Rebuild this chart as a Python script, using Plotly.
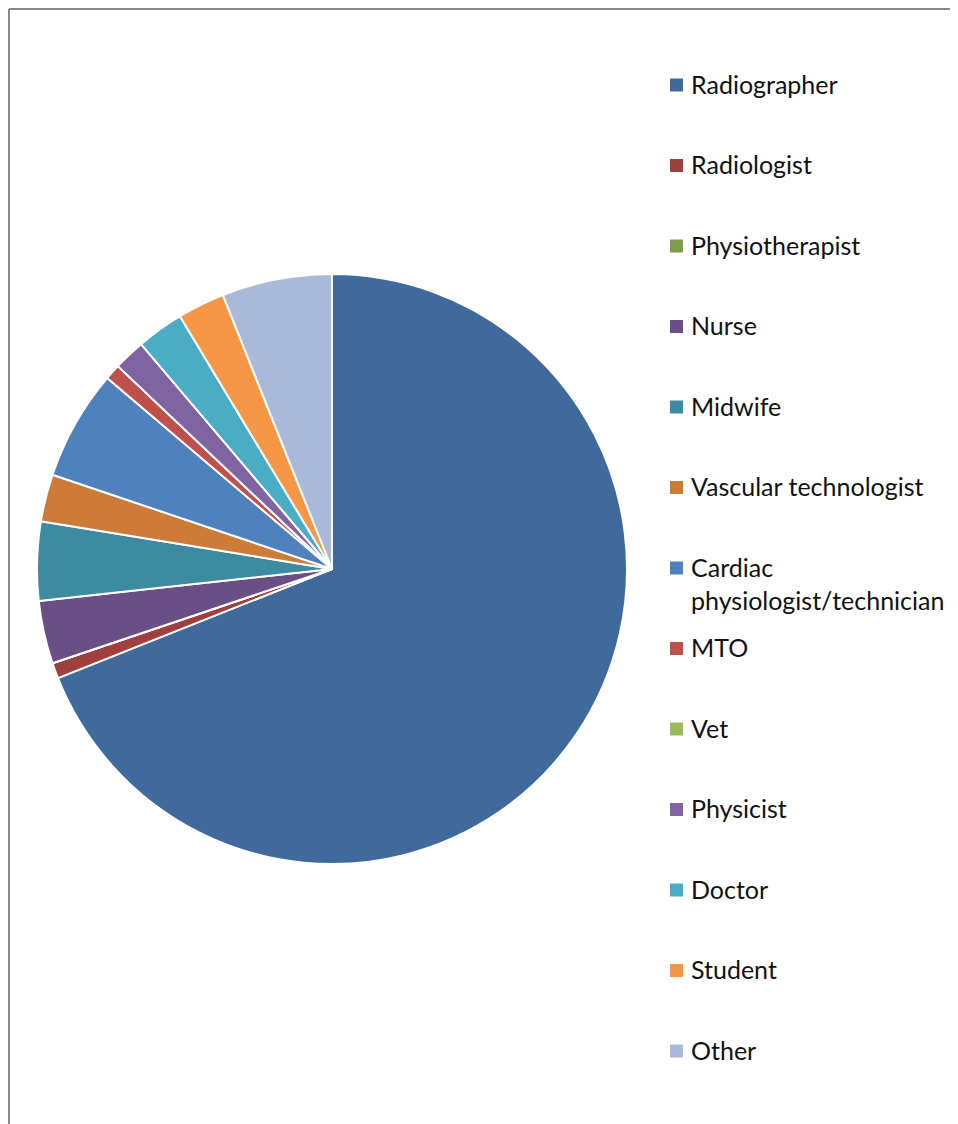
import plotly.graph_objects as go

# ---- data ----
labels = ["Radiographer", "Radiologist", "Physiotherapist", "Nurse", "Midwife",
          "Vascular technologist", "Cardiac physiologist/technician", "MTO", "Vet",
          "Physicist", "Doctor", "Student", "Other"]
legend_text = ["Radiographer", "Radiologist", "Physiotherapist", "Nurse", "Midwife",
               "Vascular technologist", "Cardiac<br>physiologist/technician", "MTO", "Vet",
               "Physicist", "Doctor", "Student", "Other"]
counts = [80, 1, 0, 4, 5, 3, 7, 1, 0, 2, 3, 3, 7]
colors = ["#416A9C", "#A0403E", "#7F9C4A", "#6A4F86", "#3C8BA1", "#CD7B38",
          "#4F81BD", "#C0504D", "#9BBB59", "#8064A2", "#4BACC6", "#F79646", "#A9B9D8"]

# page body has an 8px margin, so the figure is drawn offset by 8px
OFF = 8
W, H = 958 - OFF, 1124 - OFF


def px(x):
    return (x - OFF) / W


def py(y):
    return 1 - (y - OFF) / H


fig = go.Figure()
fig.add_trace(go.Pie(
    labels=labels,
    values=counts,
    sort=False,
    direction="clockwise",
    rotation=0,
    textinfo="none",
    marker=dict(colors=colors, line=dict(color="white", width=2)),
    domain=dict(x=[px(37), px(627)], y=[py(864), py(274)]),
    showlegend=False,
))

# ---- manual legend ----
shapes = []
annotations = []
y0, step = 85, 80.5
fs = 25
for i, (t, c) in enumerate(zip(legend_text, colors)):
    yc = y0 + i * step
    shapes.append(dict(type="rect", xref="paper", yref="paper",
                       x0=px(670), x1=px(683), y0=py(yc + 6.5), y1=py(yc - 6.5),
                       fillcolor=c, line=dict(width=0)))
    annotations.append(dict(xref="paper", yref="paper", x=px(689), y=py(yc - 0.73 * fs),
                            xanchor="left", yanchor="top", align="left", showarrow=False,
                            text=t, font=dict(family="Lato", size=fs, color="#111111")))

# frame border (left and top)
shapes.append(dict(type="line", xref="paper", yref="paper", x0=0.001, x1=0.001,
                   y0=0.999, y1=0, line=dict(color="#888888", width=2)))
shapes.append(dict(type="line", xref="paper", yref="paper", x0=0.001, x1=1,
                   y0=0.999, y1=0.999, line=dict(color="#888888", width=2)))

fig.update_layout(
    width=W, height=H,
    margin=dict(l=0, r=0, t=0, b=0),
    paper_bgcolor="white",
    plot_bgcolor="white",
    shapes=shapes,
    annotations=annotations,
)

fig.write_html("out.html")
